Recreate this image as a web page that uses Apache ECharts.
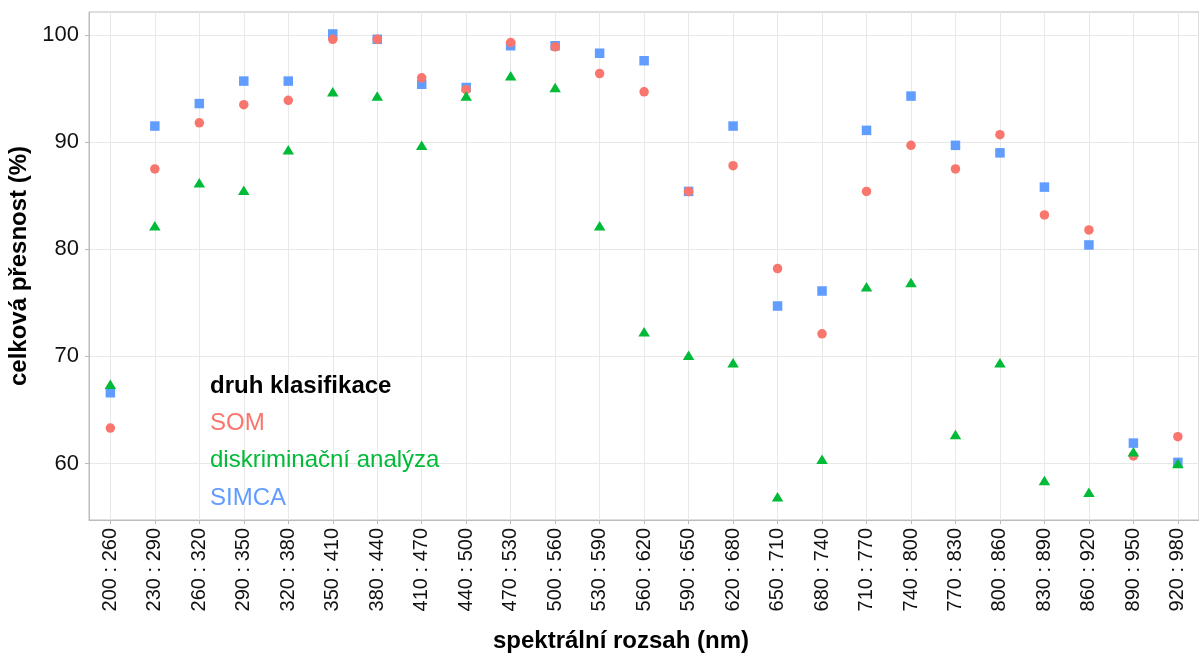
<!DOCTYPE html>
<html>
<head>
<meta charset="utf-8">
<style>
  html, body { margin: 0; padding: 0; background: #ffffff; }
  #chart { width: 1199px; height: 653px; }
</style>
<script src="https://cdn.jsdelivr.net/npm/echarts@6/dist/echarts.min.js"></script>
</head>
<body>
<div id="chart"></div>
<script>
// Spectral windows (nm) used for classification
const categories = [
  '200 : 260', '230 : 290', '260 : 320', '290 : 350', '320 : 380',
  '350 : 410', '380 : 440', '410 : 470', '440 : 500', '470 : 530',
  '500 : 560', '530 : 590', '560 : 620', '590 : 650', '620 : 680',
  '650 : 710', '680 : 740', '710 : 770', '740 : 800', '770 : 830',
  '800 : 860', '830 : 890', '860 : 920', '890 : 950', '920 : 980'
];

// Overall accuracy (%) per method
const som = [63.3, 87.5, 91.8, 93.5, 93.9, 99.6, 99.6, 96.0, 94.9, 99.3,
             98.9, 96.4, 94.7, 85.4, 87.8, 78.2, 72.1, 85.4, 89.7, 87.5,
             90.7, 83.2, 81.8, 60.7, 62.5];
const diskriminacni = [67.4, 82.2, 86.2, 85.5, 89.3, 94.7, 94.3, 89.7, 94.3, 96.2,
                       95.1, 82.2, 72.3, 70.1, 69.4, 56.9, 60.4, 76.5, 76.9, 62.7,
                       69.4, 58.4, 57.3, 61.1, 60.0];
const simca = [66.6, 91.5, 93.6, 95.7, 95.7, 100.1, 99.6, 95.4, 95.1, 99.0,
               99.0, 98.3, 97.6, 85.4, 91.5, 74.7, 76.1, 91.1, 94.3, 89.7,
               89.0, 85.8, 80.4, 61.9, 60.1];

const yTicks = [60, 70, 80, 90, 100];

const seriesNames = ['SOM', 'diskriminační analýza', 'SIMCA'];
const seriesColors = ['#F8766D', '#00BA38', '#619CFF'];

const xIndex = categories.map((c, i) => i);
const pairs = vals => vals.map((v, i) => [i, v]);

const gridLineColor = '#e8e8e8';
const frameColor = '#bcbcbc';
const fontFamily = '"Liberation Sans", Arial, sans-serif';

const chart = echarts.init(document.getElementById('chart'), null, { renderer: 'canvas' });

chart.setOption({
  animation: false,
  backgroundColor: '#ffffff',
  grid: {
    left: 89, right: 0, top: 12, bottom: 133,
    show: true, borderColor: frameColor, borderWidth: 1,
    containLabel: false,
    outerBoundsMode: 'none'
  },
  title: {
    text: 'druh klasifikace',
    left: 210, top: 372, padding: 0,
    textStyle: { fontFamily, fontSize: 24, fontWeight: 'bold', color: '#000', lineHeight: 28 }
  },
  legend: {
    orient: 'vertical',
    left: 205, top: 409, padding: 0,
    itemWidth: 0, itemHeight: 0, itemGap: 9.5,
    icon: 'circle',
    selectedMode: false,
    data: seriesNames.map((n, i) => ({
      name: n,
      textStyle: { color: seriesColors[i] }
    })),
    textStyle: { fontFamily, fontSize: 24, lineHeight: 28 }
  },
  xAxis: {
    type: 'value',
    min: -0.48, max: 24.475,
    name: 'spektrální rozsah (nm)',
    nameLocation: 'middle',
    nameGap: 109,
    nameTextStyle: {
      fontFamily, fontSize: 24, fontWeight: 'bold', color: '#000',
      padding: [0, 46, 0, 0]
    },
    axisLine: { show: true, onZero: false, lineStyle: { color: frameColor, width: 1 } },
    axisTick: { show: true, length: 4, customValues: xIndex, lineStyle: { color: frameColor } },
    axisLabel: {
      customValues: xIndex,
      rotate: 90,
      margin: 8,
      fontFamily, fontSize: 20, color: '#111',
      formatter: v => categories[Math.round(v)]
    },
    splitLine: { show: true, lineStyle: { color: gridLineColor, width: 1 } }
  },
  yAxis: {
    type: 'value',
    min: 54.72, max: 102.15,
    name: 'celková přesnost (%)',
    nameLocation: 'middle',
    nameGap: 54,
    nameTextStyle: { fontFamily, fontSize: 24, fontWeight: 'bold', color: '#000' },
    axisLine: { show: true, onZero: false, lineStyle: { color: frameColor, width: 1 } },
    axisTick: { show: true, length: 4, customValues: yTicks, lineStyle: { color: frameColor } },
    axisLabel: {
      customValues: yTicks,
      margin: 10,
      fontFamily, fontSize: 22, color: '#111'
    },
    splitLine: { show: true, lineStyle: { color: gridLineColor, width: 1 } }
  },
  series: [
    {
      name: 'SIMCA', type: 'scatter', data: pairs(simca),
      symbol: 'rect', symbolSize: 9.5,
      itemStyle: { color: seriesColors[2], opacity: 1 }, z: 2
    },
    {
      name: 'SOM', type: 'scatter', data: pairs(som),
      symbol: 'circle', symbolSize: 9.5,
      itemStyle: { color: seriesColors[0], opacity: 1 }, z: 3
    },
    {
      name: 'diskriminační analýza', type: 'scatter', data: pairs(diskriminacni),
      symbol: 'triangle', symbolSize: [11.5, 9.5],
      itemStyle: { color: seriesColors[1], opacity: 1 }, z: 4
    }
  ]
});
</script>
</body>
</html>
